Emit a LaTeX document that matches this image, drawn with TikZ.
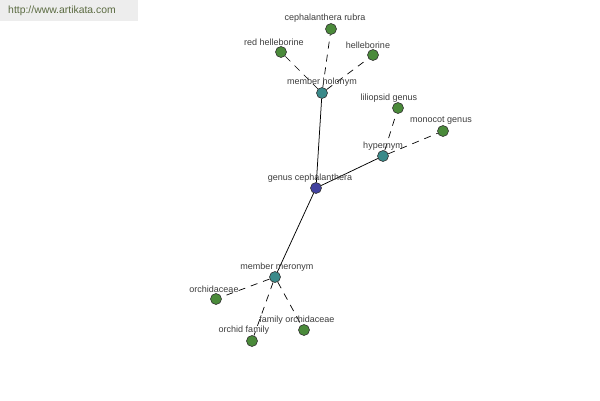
\documentclass[tikz,border=0pt]{standalone}
\usepackage{fontspec}
\setmainfont{Liberation Sans}
\definecolor{leafgreen}{RGB}{74,138,58}
\definecolor{relteal}{RGB}{58,138,138}
\definecolor{rootblue}{RGB}{66,66,160}
\definecolor{labelgray}{RGB}{60,60,60}
\definecolor{markgreen}{RGB}{90,106,64}
\tikzset{
  vertex/.style={circle,draw=black!80,line width=0.6pt,minimum size=11pt,inner sep=0},
  word/.style={vertex,fill=leafgreen},
  relation/.style={vertex,fill=relteal},
  root/.style={vertex,fill=rootblue},
  caption/.style={inner sep=0,text=labelgray,font=\fontsize{9}{10}\selectfont},
  weak/.style={dash pattern=on 7pt off 6pt,line width=0.7pt},
  strong/.style={line width=0.75pt}
}
\begin{document}
\begin{tikzpicture}[x=1pt,y=-1pt]
  \useasboundingbox (0,0) rectangle (600,400);
  \fill[black!7] (0,0) rectangle (138,21);
  \node (site) at (62,11) [inner sep=0,text=markgreen,font=\fontsize{10.4}{12}\selectfont]{http://www.artikata.com};

  % nodes
  \node (genus) at (316,188) [root]{};
  \node (holonym) at (322,93) [relation]{};
  \node (hypernym) at (383,156) [relation]{};
  \node (meronym) at (275,277) [relation]{};
  \node (rubra) at (331,29) [word]{};
  \node (redhell) at (281,52) [word]{};
  \node (hell) at (373,55) [word]{};
  \node (liliopsid) at (398,108) [word]{};
  \node (monocot) at (443,131) [word]{};
  \node (orchidaceae) at (216,299) [word]{};
  \node (orchidfam) at (252,341) [word]{};
  \node (familyorch) at (304,330) [word]{};

  % connectors
  \draw[strong] (genus) -- (holonym);
  \draw[strong] (genus) -- (hypernym);
  \draw[strong] (genus) -- (meronym);
  \draw[weak] (holonym) -- (rubra);
  \draw[weak] (holonym) -- (redhell);
  \draw[weak] (holonym) -- (hell);
  \draw[weak] (hypernym) -- (liliopsid);
  \draw[weak] (hypernym) -- (monocot);
  \draw[weak] (meronym) -- (orchidaceae);
  \draw[weak] (meronym) -- (orchidfam);
  \draw[weak] (meronym) -- (familyorch);

  % labels
  \node (rubra-l) at (325,18) [caption]{cephalanthera rubra};
  \node (redhell-l) at (274,42) [caption]{red helleborine};
  \node (hell-l) at (368,45) [caption]{helleborine};
  \node (holonym-l) at (322,82) [caption]{member holonym};
  \node (liliopsid-l) at (389,98) [caption]{liliopsid genus};
  \node (monocot-l) at (441,121) [caption]{monocot genus};
  \node (hypernym-l) at (383,146) [caption]{hypernym};
  \node (genus-l) at (310,178) [caption]{genus cephalanthera};
  \node (meronym-l) at (277,267) [caption]{member meronym};
  \node (orchidaceae-l) at (214,289) [caption]{orchidaceae};
  \node (familyorch-l) at (297,320) [caption]{family orchidaceae};
  \node (orchidfam-l) at (244,330) [caption]{orchid family};
\end{tikzpicture}
\end{document}
